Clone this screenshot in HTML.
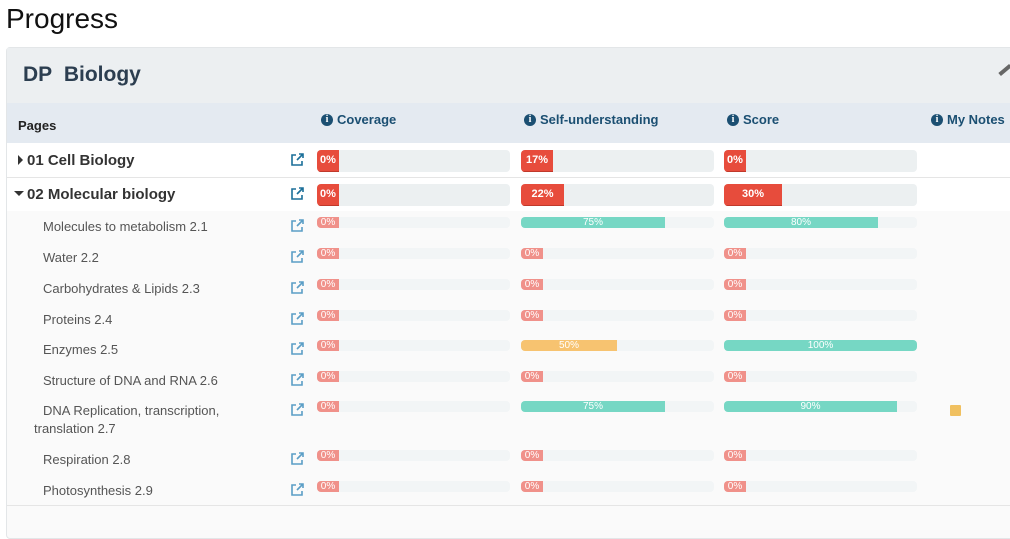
<!DOCTYPE html><html><head><style>
body{margin:0;width:1010px;height:508px;overflow:hidden;background:#fff;font-family:"Liberation Sans",sans-serif;position:relative}
.a{position:absolute}
h1{position:absolute;left:6px;top:3px;margin:0;font-weight:normal;font-size:28px;color:#111}
.panel{left:6px;top:47px;width:1010px;height:490px;border:1px solid #e3e6e8;border-radius:4px;background:#fafafa}
.bar{position:absolute;border-radius:4px;background:#ecf0f1;overflow:hidden}
.bar i{position:absolute;left:0;top:0;bottom:0;font-style:normal;color:#fff;text-align:center;font-weight:bold;font-size:11px}
.big{height:22px}.big i{line-height:20px;background:#e74c3c;border-bottom:1px solid #c0392b;box-sizing:border-box}
.sm{height:11px;background:#f2f5f6}.sm i{line-height:11px;font-weight:normal;font-size:10px}
.r i{background:#f0918a}.g i{background:#76d7c4}.y i{background:#f7c370}
.hd{font-weight:bold;font-size:13px;color:#1b4f72;line-height:15px;display:flex;align-items:center}
.hd b{display:inline-block;width:12px;height:12px;border-radius:50%;background:#1b4f72;color:#fff;font-size:10px;text-align:center;line-height:12px;margin-right:4px;font-family:"Liberation Serif",serif}
.sub{font-size:13px;color:#555}
.ico{position:absolute;width:14px;height:14px}
.tri{position:absolute;width:0;height:0}
</style></head><body>
<h1>Progress</h1>
<div class="a panel"></div>
<div class="a" style="left:7px;top:48px;width:1003px;height:55px;background:#eceff1"></div>
<div class="a" style="left:23px;top:63px;font-size:21px;font-weight:bold;color:#2c3e50">DP&nbsp; Biology</div>
<div class="a" style="left:998px;top:68px;width:14px;height:4px;background:#666;transform:rotate(-40deg)"></div>
<div class="a" style="left:7px;top:103px;width:1003px;height:40px;background:#e4eaf1"></div>
<div class="a" style="left:18px;top:118px;font-size:13px;font-weight:bold;color:#222">Pages</div>
<div class="a hd" style="left:321px;top:112px"><b>i</b>Coverage</div>
<div class="a hd" style="left:524px;top:112px"><b>i</b>Self-understanding</div>
<div class="a hd" style="left:727px;top:112px"><b>i</b>Score</div>
<div class="a hd" style="left:931px;top:112px"><b>i</b>My Notes</div>
<div class="a" style="left:7px;top:143px;width:1003px;height:68px;background:#fff"></div>
<div class="a" style="left:7px;top:177px;width:1003px;height:1px;background:#e5e5e5"></div>
<div class="a" style="left:7px;top:505px;width:1003px;height:1px;background:#e5e5e5"></div>
<div class="tri" style="left:18px;top:155px;border-left:5px solid #333;border-top:5px solid transparent;border-bottom:5px solid transparent"></div>
<div class="a" style="left:27px;top:152px;font-size:15px;font-weight:bold;color:#333">01 Cell Biology</div>
<div class="tri" style="left:14px;top:191px;border-top:5px solid #333;border-left:5px solid transparent;border-right:5px solid transparent"></div>
<div class="a" style="left:27px;top:186px;font-size:15px;font-weight:bold;color:#333">02 Molecular biology</div>
<div id="c"></div>
<script>
var ext='<svg viewBox="0 0 14 14" fill="none" stroke="COL" stroke-width="1.6"><path d="M6 2H2v10h10V8"/><path d="M7 7l6-6M9 1h4v4"/></svg>';
var h='';
function icon(y,col){h+='<div class="ico" style="left:290px;top:'+y+'px">'+ext.replace('COL',col)+'</div>';}
function bar(x,y,big,cls,pct,w,txt){h+='<div class="bar '+(big?'big':'sm '+cls)+'" style="left:'+x+'px;top:'+y+'px;width:193px"><i style="width:'+w+'px">'+txt+'</i></div>';}
icon(153,'#1b6f99');icon(187,'#1b6f99');
bar(317,150,1,'',0,22,'0%');bar(521,150,1,'',0,32,'17%');bar(724,150,1,'',0,22,'0%');
bar(317,184,1,'',0,22,'0%');bar(521,184,1,'',0,43,'22%');bar(724,184,1,'',0,58,'30%');
var rows=[['Molecules to metabolism 2.1',217,['g',144,'75%'],['g',154,'80%']],
['Water 2.2',248],['Carbohydrates &amp; Lipids 2.3',279],['Proteins 2.4',310],
['Enzymes 2.5',340,['y',96,'50%'],['g',193,'100%']],
['Structure of DNA and RNA 2.6',371],
['DNA Replication, transcription,',401,['g',144,'75%'],['g',173,'90%']],
['Respiration 2.8',450],['Photosynthesis 2.9',481]];
rows.forEach(function(r){var y=r[1];
h+='<div class="a sub" style="left:43px;top:'+(y+2)+'px">'+r[0]+'</div>';
icon(y+2,'#5b9ec6');
bar(317,y,0,'r',0,22,'0%');
var s=r[2]||['r',22,'0%'],t=r[3]||['r',22,'0%'];
bar(521,y,0,s[0],0,s[1],s[2]);bar(724,y,0,t[0],0,t[1],t[2]);});
h+='<div class="a sub" style="left:34px;top:421px">translation 2.7</div>';
h+='<div class="a" style="left:950px;top:405px;width:11px;height:11px;background:#f0c060;border-radius:1px"></div>';
document.getElementById('c').innerHTML=h;
</script>
</body></html>
